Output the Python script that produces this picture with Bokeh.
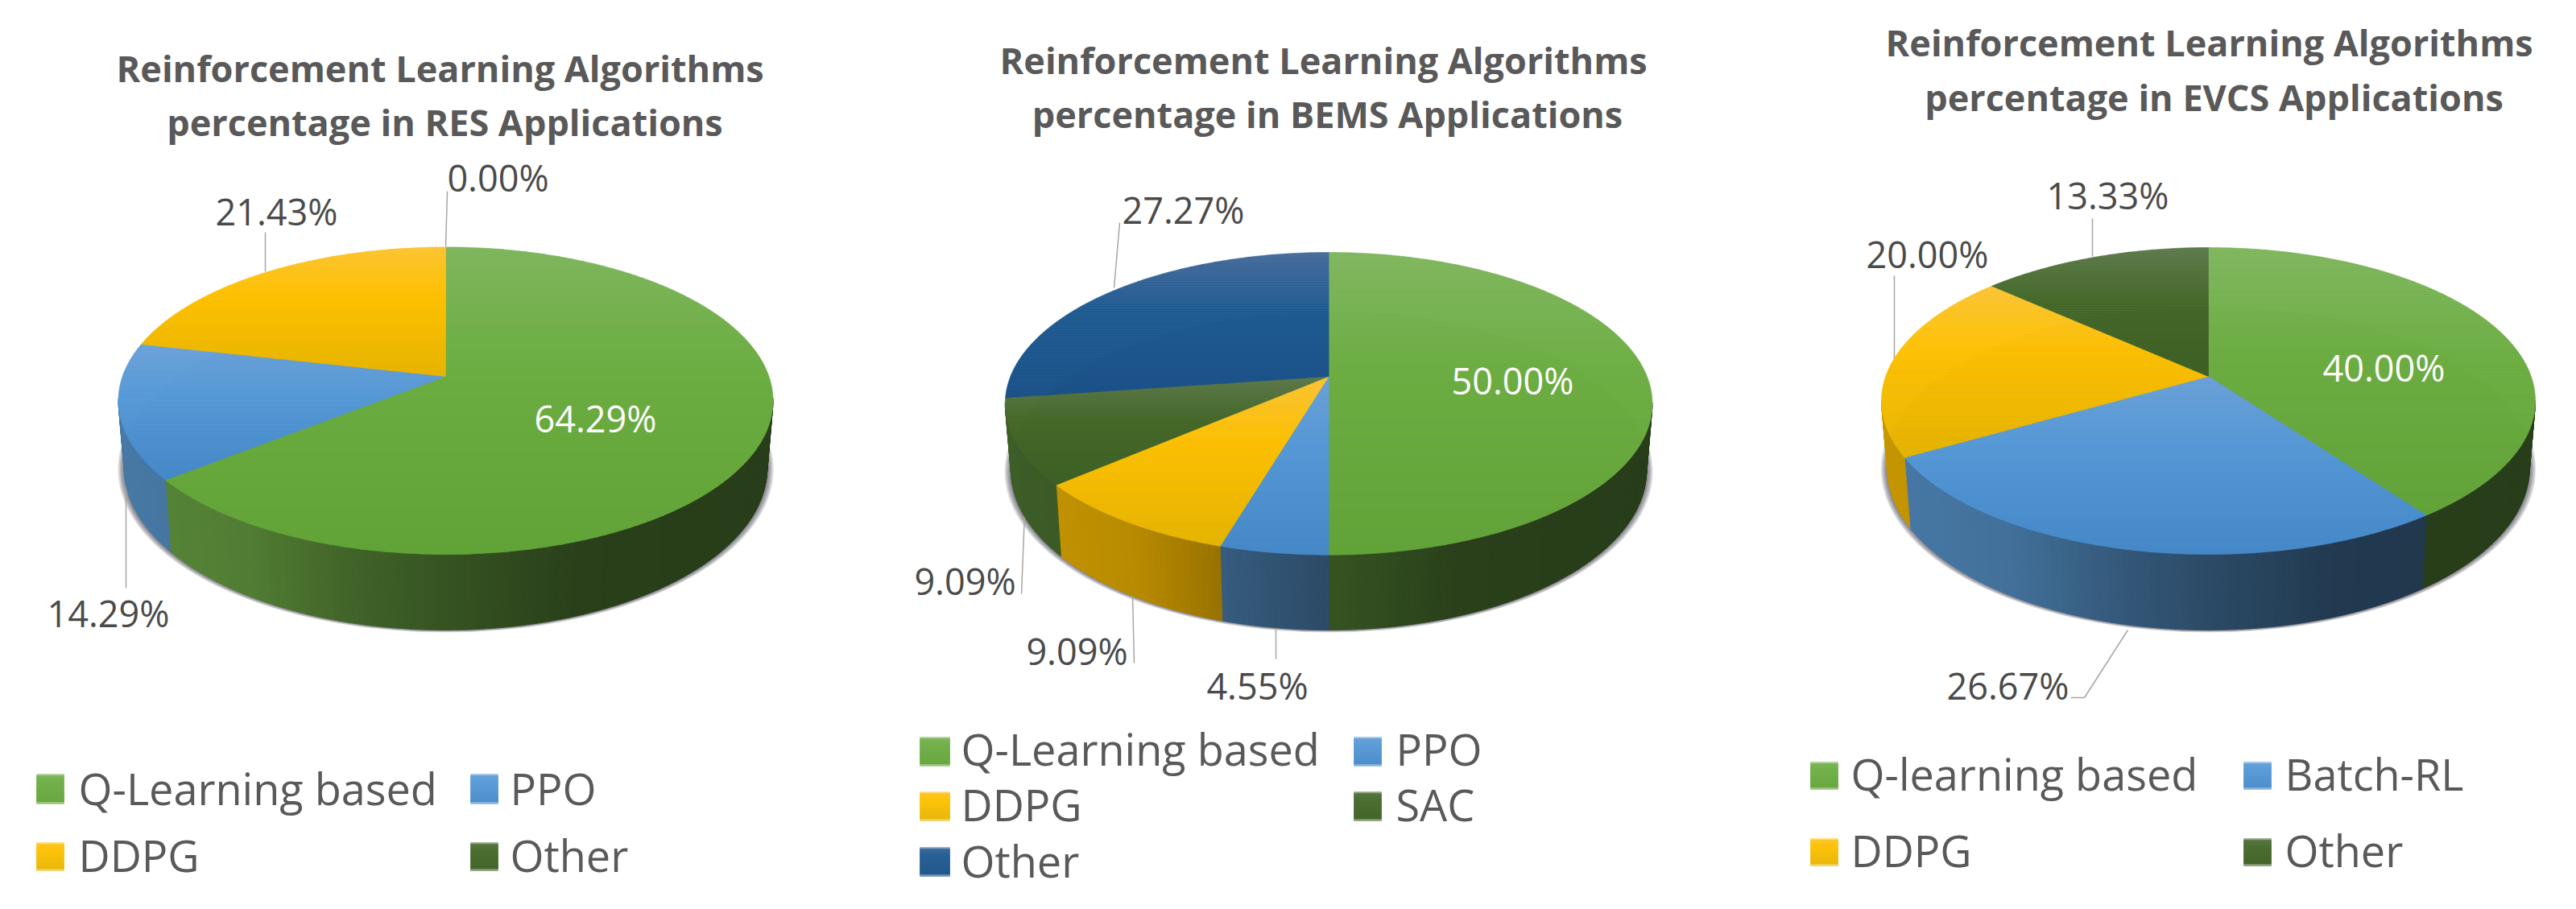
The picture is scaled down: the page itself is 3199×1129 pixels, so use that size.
import math
from bokeh.plotting import figure
from bokeh.models import ColumnDataSource, Range1d
from bokeh.core.properties import value
from bokeh.embed import file_html
from bokeh.resources import INLINE

# ---------- data ----------
RES_NAMES = ["Q-Learning based", "PPO", "DDPG", "Other"]
RES_VALUES = [64.29, 14.29, 21.43, 0.00]
RES_FAMILY = ["green", "blue", "gold", "dgreen"]

BEMS_NAMES = ["Q-Learning based", "PPO", "DDPG", "SAC", "Other"]
BEMS_VALUES = [50.00, 4.55, 9.09, 9.09, 27.27]
BEMS_FAMILY = ["green", "blue", "gold", "dgreen", "dblue"]

EVCS_NAMES = ["Q-learning based", "Batch-RL", "DDPG", "Other"]
EVCS_VALUES = [40.00, 26.67, 20.00, 13.33]
EVCS_FAMILY = ["green", "blue", "gold", "dgreen"]

TITLE_HEAD = "Reinforcement Learning  Algorithms"
RES_TITLE = "percentage in RES Applications"
BEMS_TITLE = "percentage in BEMS Applications"
EVCS_TITLE = "percentage in EVCS Applications"

# ---------- styling ----------
STOPS = {
    "green": [(127, 182, 94), (108, 173, 66), (98, 163, 56)],
    "blue": [(107, 161, 216), (84, 152, 214), (68, 136, 200)],
    "gold": [(252, 196, 52), (253, 192, 0), (230, 180, 0)],
    "dgreen": [(93, 122, 75), (68, 104, 40), (60, 95, 35)],
    "dblue": [(70, 107, 155), (30, 90, 145), (25, 80, 135)],
}
WALL_BASE = {
    "green": (112, 173, 71),
    "blue": (91, 155, 213),
    "gold": (255, 192, 0),
    "dgreen": (78, 120, 50),
    "dblue": (37, 94, 145),
}
WALL_SHADE = [(-1.0, 0.78), (-0.6, 0.72), (-0.3, 0.58), (0.0, 0.48), (0.4, 0.37), (1.0, 0.35)]
FONT = "Open Sans"
TITLE_PX, LABEL_PX, LEGEND_PX = "45px", "45px", "54px"
C_TITLE, C_LABEL, C_LEGEND, C_LEAD = "#595959", "#4a4a4a", "#595959", "#A6A6A6"


def hexc(c):
    return "#%02x%02x%02x" % tuple(max(0, min(255, int(round(v)))) for v in c)


def mix(a, b, t):
    return tuple(a[i] + (b[i] - a[i]) * t for i in range(3))


def grad(fam, t):
    s = STOPS[fam]
    if t < 0.4:
        return mix(s[0], s[1], t / 0.4)
    return mix(s[1], s[2], (t - 0.4) / 0.6)


def wall_shade(u):
    u = max(-1, min(1, u))
    for (a, fa), (b, fb) in zip(WALL_SHADE, WALL_SHADE[1:]):
        if u <= b:
            return fa + (fb - fa) * (u - a) / (b - a)
    return WALL_SHADE[-1][1]


def clip_band(poly, y0, y1):
    def clip(pts, inside, cross):
        out = []
        for i in range(len(pts)):
            p, q = pts[i], pts[(i + 1) % len(pts)]
            if inside(p):
                out.append(p)
            if inside(p) != inside(q):
                out.append(cross(p, q))
        return out

    def at(y):
        return lambda p, q: (p[0] + (q[0] - p[0]) * (y - p[1]) / (q[1] - p[1]), y)

    r = clip(poly, lambda p: p[1] >= y0, at(y0))
    return clip(r, lambda p: p[1] <= y1, at(y1)) if r else r


top_x, top_y, top_c = [], [], []
wall_x, wall_y, wall_c = [], [], []
shadow_x, shadow_y = [], []
lead_x, lead_y = [], []
swatch_x, swatch_y, swatch_c = [], [], []


def draw_pie(values, fams, cx, rx, ytop, yapex, yfront, ybc, rybc):
    yc, ry = (ytop + yfront) / 2, (yfront - ytop) / 2
    up, dn = yapex - ytop, yfront - yapex
    c = (up - dn) / (up + dn)
    a = dn * (1 + c)
    d = rx * math.sqrt(1 - ((yapex - yc) / ry) ** 2)
    rxb = rx * 0.982

    # soft shadow under the wall
    for k in range(7):
        f = 1 - k / 6
        n = 160
        shadow_x.append([cx + (rxb + 8 * f) * math.cos(2 * math.pi * i / n) for i in range(n)])
        shadow_y.append([ybc + 1.5 * f + (rybc + 1.5 * f) * math.sin(2 * math.pi * i / n) for i in range(n)])

    def rim(theta):
        X, Y = math.sin(theta), -math.cos(theta)
        w = 1 + c * Y
        return cx + d * X / w, yapex + a * Y / w

    total = sum(values)
    th = 0.0
    for v, fam in zip(values, fams):
        if v <= 0:
            continue
        th1 = th + 2 * math.pi * v / total
        n = max(4, int((th1 - th) / math.radians(1)))
        thetas = [th + (th1 - th) * i / n for i in range(n + 1)]
        rims = [rim(t) for t in thetas]

        # side wall
        base = WALL_BASE[fam]
        for (p, q) in zip(rims, rims[1:]):
            ph = [math.atan2((pt[1] - yc) / ry, (pt[0] - cx) / rx) for pt in (p, q)]
            if math.sin(ph[0]) < 0 and math.sin(ph[1]) < 0:
                continue
            bx = [cx + rxb * math.cos(f) for f in ph]
            by = [ybc + rybc * math.sin(f) for f in ph]
            u = ((p[0] + q[0]) / 2 - cx) / rx
            s = wall_shade(u)
            wall_x.append([p[0], q[0], bx[1], bx[0]])
            wall_y.append([p[1], q[1], by[1], by[0]])
            wall_c.append(hexc(tuple(b * s for b in base)))

        # top face with a vertical gradient over the slice's own box
        poly = [(cx, yapex)] + rims
        y0 = min(p[1] for p in poly)
        y1 = max(p[1] for p in poly)
        y = y0
        step = 3.0
        while y < y1:
            part = clip_band(poly, y, min(y + step, y1))
            if len(part) >= 3:
                top_x.append([p[0] for p in part])
                top_y.append([p[1] for p in part])
                top_c.append(hexc(grad(fam, (y + step / 2 - y0) / max(1, y1 - y0))))
            y += step
        th = th1


def swatch(x0, x1, y0, y1, fam):
    rows = int(y1 - y0)
    for i in range(rows):
        a, b = y0 + i, y0 + i + 1
        col = grad(fam, 0.15 + 0.85 * (i + 0.5) / rows)
        if i < 2 or i >= rows - 2:
            col = mix(col, (255, 255, 255), 0.35)
        swatch_x.append([x0, x1, x1, x0])
        swatch_y.append([a, a, b, b])
        swatch_c.append(hexc(col))


draw_pie(RES_VALUES, RES_FAMILY, 554, 406.5, 307.4, 468, 689, 582, 201)
draw_pie(BEMS_VALUES, BEMS_FAMILY, 1650.6, 401.8, 314, 468, 689.7, 585, 198)
draw_pie(EVCS_VALUES, EVCS_FAMILY, 2743, 406, 308, 468, 689, 582, 201)

# leader lines
for xs, ys in [
    ([554, 556], [307, 238]), ([330, 330], [338, 289]), ([157, 157], [590, 731]),
    ([1384, 1391], [358, 277]), ([1273, 1269], [637, 738]), ([1407, 1409], [740, 824]), ([1585, 1585], [779, 819]),
    ([2599, 2599], [319, 272]), ([2353, 2353], [450, 343]), ([2643, 2589, 2572], [783, 867, 867]),
]:
    lead_x.append(xs)
    lead_y.append(ys)


def pct(v):
    return f"{v:.2f}%"


titles = [
    (553, 85, TITLE_HEAD), (553, 152, RES_TITLE),
    (1650, 75, TITLE_HEAD), (1649, 142, BEMS_TITLE),
    (2750, 53, TITLE_HEAD), (2750, 121, EVCS_TITLE),
]
labels = [
    (740, 520, pct(RES_VALUES[0]), "#ffffff"), (135, 762, pct(RES_VALUES[1]), C_LABEL),
    (344, 263, pct(RES_VALUES[2]), C_LABEL), (619, 221, pct(RES_VALUES[3]), C_LABEL),
    (1879, 473, pct(BEMS_VALUES[0]), "#ffffff"), (1562, 852, pct(BEMS_VALUES[1]), C_LABEL),
    (1338, 809, pct(BEMS_VALUES[2]), C_LABEL), (1199, 722, pct(BEMS_VALUES[3]), C_LABEL),
    (1470, 261, pct(BEMS_VALUES[4]), C_LABEL),
    (2961, 457, pct(EVCS_VALUES[0]), "#ffffff"), (2494, 852, pct(EVCS_VALUES[1]), C_LABEL),
    (2394, 316, pct(EVCS_VALUES[2]), C_LABEL), (2618, 243, pct(EVCS_VALUES[3]), C_LABEL),
]

legend_text = []
res_slots = [(46, 80, 962, 999, 98, 979), (585, 619, 962, 999, 634, 979), (46, 80, 1047, 1082, 98, 1062), (585, 619, 1047, 1082, 634, 1062)]
bems_slots = [(1143, 1180, 916, 952, 1194, 930), (1682, 1716, 916, 952, 1734, 930), (1143, 1180, 984, 1020, 1194, 999), (1682, 1716, 984, 1020, 1734, 999), (1143, 1180, 1053, 1089, 1194, 1069)]
evcs_slots = [(2249, 2283, 947, 981, 2299, 961), (2787, 2821, 947, 981, 2838, 961), (2249, 2283, 1042, 1076, 2299, 1056), (2787, 2821, 1042, 1076, 2838, 1056)]
for names, fams, slots in [(RES_NAMES, RES_FAMILY, res_slots), (BEMS_NAMES, BEMS_FAMILY, bems_slots), (EVCS_NAMES, EVCS_FAMILY, evcs_slots)]:
    for name, fam, (x0, x1, y0, y1, tx, ty) in zip(names, fams, slots):
        swatch(x0, x1, y0, y1, fam)
        legend_text.append((tx, ty, name))

# ---------- figure ----------
p = figure(width=3183, height=1113, output_backend="svg", toolbar_location=None,
           x_range=Range1d(1, 3184), y_range=Range1d(1114, 1), min_border=0)
p.axis.visible = False
p.grid.visible = False
p.outline_line_color = None
p.background_fill_color = "#ffffff"

p.patches(shadow_x, shadow_y, fill_color="#30303a", fill_alpha=0.13, line_color=None)
p.multi_line(lead_x, lead_y, line_color=C_LEAD, line_width=1.5)
p.patches("x", "y", source=ColumnDataSource(dict(x=wall_x, y=wall_y, c=wall_c)),
          fill_color="c", line_color="c", line_width=0.8)
p.patches("x", "y", source=ColumnDataSource(dict(x=top_x, y=top_y, c=top_c)),
          fill_color="c", line_color="c", line_width=0.6)
p.patches("x", "y", source=ColumnDataSource(dict(x=swatch_x, y=swatch_y, c=swatch_c)),
          fill_color="c", line_color="c", line_width=0.6)

p.text([t[0] for t in titles], [t[1] for t in titles], text=[t[2] for t in titles],
       text_font=value(FONT), text_font_style="bold", text_font_size=value(TITLE_PX),
       text_color=C_TITLE, text_align="center", text_baseline="middle")
p.text([t[0] for t in labels], [t[1] for t in labels], text=[t[2] for t in labels],
       text_font=value(FONT), text_font_size=value(LABEL_PX),
       text_color=[t[3] for t in labels], text_align="center", text_baseline="middle")
p.text([t[0] for t in legend_text], [t[1] for t in legend_text], text=[t[2] for t in legend_text],
       text_font=value(FONT), text_font_size=value(LEGEND_PX),
       text_color=C_LEGEND, text_align="left", text_baseline="middle")

open("out.html", "w").write(file_html(p, INLINE))
